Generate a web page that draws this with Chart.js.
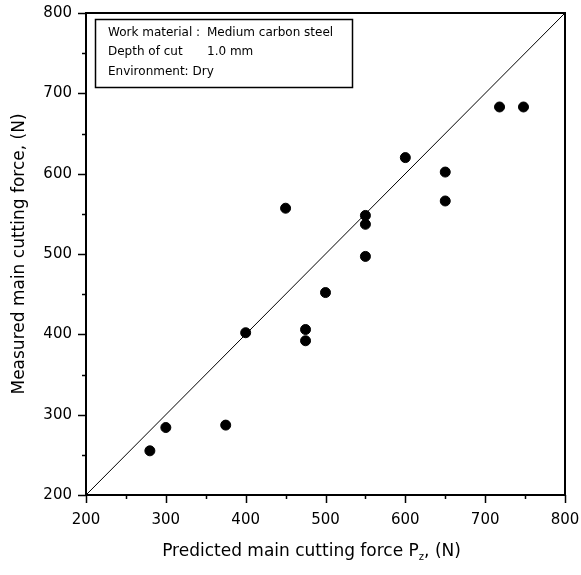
<!DOCTYPE html>
<html>
<head>
<meta charset="utf-8">
<script src="https://cdn.jsdelivr.net/npm/chart.js@4.4.0/dist/chart.umd.min.js"></script>
<style>
  html, body { margin: 0; padding: 0; background: #fff; }
  canvas { display: block; }
</style>
</head>
<body>
<canvas id="chart" width="581" height="575"></canvas>
<script>
// Predicted vs measured main cutting force (N)
const predicted = [280, 300, 375, 400, 450, 475, 475, 500, 550, 550, 550, 600, 650, 650, 718, 748];
const measured  = [255, 284, 287, 402, 557, 406, 392, 452, 548, 537, 497, 620, 602, 566, 683, 683];

// y = x reference line
const idealLine = [200, 800];

const axisMin = 200;
const axisMax = 800;
const majorStep = 100;
const minorStep = 50;

const infoLabels = ['Work material :', 'Depth of cut', 'Environment: Dry'];
const infoValues = ['Medium carbon steel', '1.0 mm', ''];

const FONT = '"DejaVu Sans", Arial, sans-serif';

// Frame, outward ticks, titles and info box
const decorPlugin = {
    id: 'decor',
    afterDraw(chart) {
        const { ctx, chartArea: a, scales } = chart;
        const xs = scales.x, ys = scales.y;
        ctx.save();
        ctx.strokeStyle = '#000';

        // frame
        ctx.lineWidth = 2;
        ctx.strokeRect(a.left, a.top, a.right - a.left, a.bottom - a.top);

        // ticks (major + minor), pointing out
        ctx.lineWidth = 1.5;
        for (let v = axisMin; v <= axisMax; v += minorStep) {
            const len = v % majorStep === 0 ? 8 : 4;
            const px = Math.round(xs.getPixelForValue(v)) + 0.5;
            const py = Math.round(ys.getPixelForValue(v)) + 0.5;
            ctx.beginPath();
            ctx.moveTo(px, a.bottom);
            ctx.lineTo(px, a.bottom + len);
            ctx.moveTo(a.left, py);
            ctx.lineTo(a.left - len, py);
            ctx.stroke();
        }

        // info box
        ctx.lineWidth = 1.5;
        ctx.strokeRect(95.5, 19.5, 257, 68);
        ctx.fillStyle = '#000';
        ctx.font = '12px ' + FONT;
        ctx.textBaseline = 'middle';
        ctx.textAlign = 'left';
        const rows = [33, 52, 72];
        infoLabels.forEach((t, i) => {
            ctx.fillText(t, 108, rows[i]);
            if (infoValues[i]) ctx.fillText(infoValues[i], 207, rows[i]);
        });

        // x title with subscript
        ctx.textBaseline = 'middle';
        const part1 = 'Predicted main cutting force P';
        const sub = 'z';
        const part2 = ', (N)';
        ctx.font = '17px ' + FONT;
        const w1 = ctx.measureText(part1).width;
        const w3 = ctx.measureText(part2).width;
        ctx.font = '10px ' + FONT;
        const w2 = ctx.measureText(sub).width;
        const total = w1 + w2 + w3;
        const x0 = (a.left + a.right) / 2 - total / 2 - 14;
        const ty = 552;
        ctx.font = '17px ' + FONT;
        ctx.fillText(part1, x0, ty);
        ctx.font = '10px ' + FONT;
        ctx.fillText(sub, x0 + w1, ty + 5);
        ctx.font = '17px ' + FONT;
        ctx.fillText(part2, x0 + w1 + w2, ty);

        // y title
        ctx.save();
        ctx.translate(20, (a.top + a.bottom) / 2);
        ctx.rotate(-Math.PI / 2);
        ctx.textAlign = 'center';
        ctx.font = '17px ' + FONT;
        ctx.fillText('Measured main cutting force, (N)', 0, 0);
        ctx.restore();

        ctx.restore();
    }
};

new Chart(document.getElementById('chart'), {
    type: 'scatter',
    data: {
        datasets: [
            {
                label: 'y = x',
                data: idealLine.map(v => ({ x: v, y: v })),
                showLine: true,
                borderColor: '#000',
                borderWidth: 1,
                pointRadius: 0,
                fill: false
            },
            {
                label: 'Measured',
                data: predicted.map((p, i) => ({ x: p, y: measured[i] })),
                backgroundColor: '#000',
                borderColor: '#000',
                pointRadius: 5,
                pointHoverRadius: 5
            }
        ]
    },
    options: {
        responsive: false,
        animation: false,
        layout: { padding: { left: 0, top: 13, right: 16, bottom: 0 } },
        plugins: {
            legend: { display: false },
            tooltip: { enabled: false }
        },
        scales: {
            x: {
                type: 'linear',
                min: axisMin,
                max: axisMax,
                grid: { display: false, drawTicks: false },
                border: { display: false },
                ticks: {
                    stepSize: majorStep,
                    color: '#000',
                    padding: 16,
                    font: { family: FONT, size: 15 }
                },
                afterFit(scale) {
                    scale.height = 80;
                    scale.paddingLeft = 0;
                    scale.paddingRight = 0;
                }
            },
            y: {
                type: 'linear',
                min: axisMin,
                max: axisMax,
                grid: { display: false, drawTicks: false },
                border: { display: false },
                ticks: {
                    stepSize: majorStep,
                    color: '#000',
                    padding: 14,
                    font: { family: FONT, size: 15 }
                },
                afterFit(scale) {
                    scale.width = 86;
                    scale.paddingTop = 0;
                    scale.paddingBottom = 0;
                }
            }
        }
    },
    plugins: [decorPlugin]
});
</script>
</body>
</html>
